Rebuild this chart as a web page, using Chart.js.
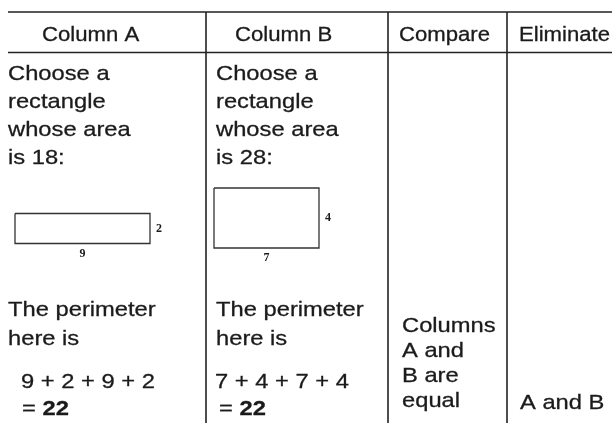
<!DOCTYPE html>
<html>
<head>
<meta charset="utf-8">
<script src="https://cdn.jsdelivr.net/npm/chart.js@4.4.1/dist/chart.umd.min.js"></script>
<style>
  html, body { margin: 0; padding: 0; background: #fff; }
  #wrap { width: 612px; height: 423px; }
</style>
</head>
<body>
<div id="wrap"><canvas id="sheet" width="612" height="423"></canvas></div>
<script>
// table content
const headers = ['Column A', 'Column B', 'Compare', 'Eliminate'];
const rectWidths = [9, 7];
const rectHeights = [2, 4];
const areas = [18, 28];
const perimeters = [22, 22];
const verdict = ['Columns', 'A and', 'B are', 'equal'];
const eliminated = 'A and B';

(function(){
    const U = 15;                      // px per rectangle unit
    const rectCenters = [[82.5, 228.5], [266.5, 218]];
    const ink = '#1b1b1b';

    // closed outline for each rectangle, built from its width/height
    let rectSets = rectWidths.map(function(w, i){
        let cx = rectCenters[i][0], cy = rectCenters[i][1];
        let hw = w * U / 2, hh = rectHeights[i] * U / 2;
        return {
            label: 'rect' + i,
            data: [
                {x: cx - hw, y: cy - hh},
                {x: cx + hw, y: cy - hh},
                {x: cx + hw, y: cy + hh},
                {x: cx - hw, y: cy + hh},
                {x: cx - hw, y: cy - hh}
            ],
            showLine: true,
            borderColor: '#333',
            borderWidth: 1.3,
            pointRadius: 0,
            fill: false,
            tension: 0,
            clip: false
        };
    });

    function txt(ctx, s, x, y, sx){
        ctx.save();
        ctx.translate(x, y);
        ctx.scale(sx, 1);
        ctx.fillText(s, 0, 0);
        ctx.strokeText(s, 0, 0);
        ctx.restore();
        return ctx.measureText(s).width * sx;
    }

    let tablePlugin = {
        id: 'tablePlugin',
        beforeDatasetsDraw: function(chart){
            let ctx = chart.ctx;
            let X = v => chart.scales.x.getPixelForValue(v);
            let Y = v => chart.scales.y.getPixelForValue(v);
            ctx.save();
            ctx.strokeStyle = '#222';
            ctx.lineWidth = 1.6;
            ctx.beginPath();
            ctx.moveTo(X(8), Y(12)); ctx.lineTo(X(612), Y(12));
            ctx.moveTo(X(8), Y(52.5)); ctx.lineTo(X(612), Y(52.5));
            [206, 388, 507].forEach(function(vx){
                ctx.moveTo(X(vx), Y(12)); ctx.lineTo(X(vx), Y(423));
            });
            ctx.stroke();
            ctx.restore();
        },
        afterDatasetsDraw: function(chart){
            let ctx = chart.ctx;
            let X = v => chart.scales.x.getPixelForValue(v);
            let Y = v => chart.scales.y.getPixelForValue(v);
            ctx.save();
            ctx.fillStyle = ink;
            ctx.strokeStyle = ink;
            ctx.lineWidth = 0.3;
            ctx.textBaseline = 'alphabetic';

            // header row
            ctx.font = '20.5px "Liberation Sans", Arial, sans-serif';
            [42, 235, 399, 519].forEach(function(hx, i){
                txt(ctx, headers[i], X(hx), Y(41), 1.08);
            });

            // body text
            ctx.font = '21px "Liberation Sans", Arial, sans-serif';
            let sx = 1.13;
            [8, 216].forEach(function(cx, i){
                let lines = ['Choose a', 'rectangle', 'whose area', 'is ' + areas[i] + ':'];
                lines.forEach(function(l, k){ txt(ctx, l, X(cx), Y(80 + k * 28), sx); });
                txt(ctx, 'The perimeter', X(cx), Y(316), sx);
                txt(ctx, 'here is', X(cx), Y(344.5), sx);
            });
            [[21, 22], [215, 219]].forEach(function(p, i){
                let w = rectWidths[i], h = rectHeights[i];
                ctx.font = '21px "Liberation Sans", Arial, sans-serif';
                txt(ctx, w + ' + ' + h + ' + ' + w + ' + ' + h, X(p[0]), Y(387.5), sx);
                let eqW = txt(ctx, '= ', X(p[1]), Y(415), sx);
                ctx.font = 'bold 21px "Liberation Sans", Arial, sans-serif';
                txt(ctx, String(perimeters[i]), X(p[1]) + eqW, Y(415), sx);
            });

            ctx.font = '21px "Liberation Sans", Arial, sans-serif';
            verdict.forEach(function(l, k){ txt(ctx, l, X(402), Y(332 + k * 25), sx); });
            txt(ctx, eliminated, X(520), Y(409), sx);

            // dimension labels on the rectangles
            ctx.font = 'bold 12px "Liberation Serif", "Times New Roman", serif';
            ctx.textAlign = 'center';
            ctx.textBaseline = 'middle';
            rectWidths.forEach(function(w, i){
                let cx = rectCenters[i][0], cy = rectCenters[i][1];
                let hw = w * U / 2, hh = rectHeights[i] * U / 2;
                ctx.fillText(String(w), X(cx), Y(cy + hh + 10));
                ctx.fillText(String(rectHeights[i]), X(cx + hw + 9), Y(cy));
            });
            ctx.restore();
        }
    };

    new Chart(document.getElementById('sheet'), {
        type: 'scatter',
        data: { datasets: rectSets },
        options: {
            responsive: false,
            animation: false,
            layout: { padding: 0 },
            plugins: {
                legend: { display: false },
                tooltip: { enabled: false }
            },
            scales: {
                x: { type: 'linear', min: 0, max: 612, display: false },
                y: { type: 'linear', min: 0, max: 423, reverse: true, display: false }
            }
        },
        plugins: [tablePlugin]
    });
})();
</script>
</body>
</html>
